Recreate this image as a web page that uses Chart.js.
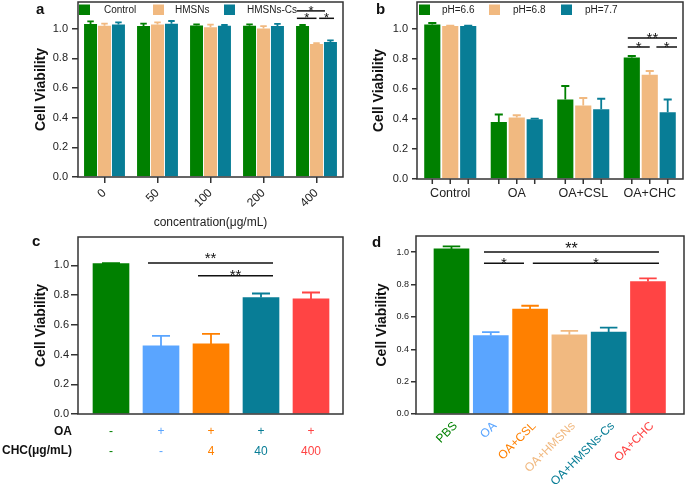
<!DOCTYPE html>
<html>
<head>
<meta charset="utf-8">
<script src="https://cdn.jsdelivr.net/npm/chart.js@4.4.0/dist/chart.umd.min.js"></script>
<style>
  html, body { margin: 0; padding: 0; background: #fff; }
  #page { position: relative; width: 685px; height: 493px; overflow: hidden; }
  .panel { position: absolute; }
</style>
</head>
<body>
<div id="page">
  <div class="panel" style="left:0;top:0;width:345px;height:235px"><canvas id="chartA"></canvas></div>
  <div class="panel" style="left:345px;top:0;width:340px;height:235px"><canvas id="chartB"></canvas></div>
  <div class="panel" style="left:0;top:235px;width:345px;height:258px"><canvas id="chartC"></canvas></div>
  <div class="panel" style="left:345px;top:235px;width:340px;height:258px"><canvas id="chartD"></canvas></div>
</div>
<script>
const GREEN = 'rgb(0,128,0)'
const PEACH = 'rgb(241,185,128)'
const TEAL = 'rgb(8,125,150)'
const BLUE = 'rgb(90,165,255)'
const ORANGE = 'rgb(255,128,0)'
const RED = 'rgb(255,68,68)'
const AXIS = '#333'

// panel a : viability vs concentration
const concLabels = ['0', '50', '100', '200', '400']
const aControl = [1.032, 1.018, 1.022, 1.020, 1.018]
const aControlErr = [0.017, 0.016, 0.007, 0.009, 0.007]
const aHMSNs = [1.020, 1.029, 1.009, 1.002, 0.896]
const aHMSNsErr = [0.014, 0.014, 0.018, 0.016, 0.007]
const aHMSNsCs = [1.029, 1.034, 1.020, 1.018, 0.910]
const aHMSNsCsErr = [0.014, 0.018, 0.005, 0.014, 0.011]

// panel b : pH groups
const groupLabels = ['Control', 'OA', 'OA+CSL', 'OA+CHC']
const bPH66 = [1.03, 0.38, 0.53, 0.81]
const bPH66Err = [0.01, 0.05, 0.09, 0.01]
const bPH68 = [1.02, 0.41, 0.49, 0.695]
const bPH68Err = [0.003, 0.015, 0.05, 0.025]
const bPH77 = [1.02, 0.398, 0.465, 0.445]
const bPH77Err = [0.003, 0.005, 0.07, 0.085]

// panel c : CHC dose
const cOA = ['-', '+', '+', '+', '+']
const cCHC = ['-', '-', '4', '40', '400']
const cValues = [1.012, 0.458, 0.471, 0.783, 0.774]
const cErr = [0.003, 0.067, 0.068, 0.027, 0.043]
const cColors = [GREEN, BLUE, ORANGE, TEAL, RED]

// panel d : formulations
const dLabels = ['PBS', 'OA', 'OA+CSL', 'OA+HMSNs', 'OA+HMSNs-Cs', 'OA+CHC']
const dValues = [1.02, 0.485, 0.648, 0.489, 0.506, 0.819]
const dErr = [0.016, 0.021, 0.021, 0.025, 0.028, 0.019]
const dColors = [GREEN, BLUE, ORANGE, PEACH, TEAL, RED]

Chart.defaults.font.family = "'Liberation Sans', Arial, sans-serif"
Chart.defaults.color = '#222'

const common = {
  responsive: true,
  maintainAspectRatio: false,
  animation: false,
  events: [],
  plugins: { legend: { display: false }, tooltip: { enabled: false } }
}

// fix an axis size and drop the auto padding it asks for
const fixSize = (prop, size) => scale => {
  scale[prop] = size
  scale.paddingTop = scale.paddingBottom = scale.paddingLeft = scale.paddingRight = 0
}

const yAxis = (o) => ({
  min: 0,
  max: o.max,
  afterFit: fixSize('width', o.width),
  grid: { drawOnChartArea: false, tickLength: o.tick, color: AXIS, lineWidth: 1.5 },
  border: { display: false },
  ticks: {
    stepSize: 0.2, includeBounds: false, padding: o.pad,
    font: { size: o.size }, color: '#222',
    callback: v => v.toFixed(1)
  },
  title: {
    display: true, text: 'Cell Viability', color: '#111',
    font: { size: 14, weight: 'bold' },
    padding: { top: o.titlePad, bottom: 0 }
  }
})

const onlyIndexTicks = n => scale => {
  scale.ticks = Array.from({ length: n }, (_, i) => ({ value: i }))
}

const panelPlugin = (opts) => ({
  id: 'panel' + opts.letter,
  afterDatasetsDraw(chart) {
    const ctx = chart.ctx
    const xs = chart.scales.x
    const ys = chart.scales.y
    const area = chart.chartArea
    ctx.save()

    // upper error bars
    chart.data.datasets.forEach((ds, di) => {
      chart.getDatasetMeta(di).data.forEach((bar, i) => {
        const raw = ds.data[i]
        const v = typeof raw === 'object' ? raw.y : raw
        const top = ys.getPixelForValue(v + ds.errors[i])
        const half = bar.width / 4
        ctx.strokeStyle = Array.isArray(ds.backgroundColor) ? ds.backgroundColor[i] : ds.backgroundColor
        ctx.lineWidth = 1.8
        ctx.beginPath()
        ctx.moveTo(bar.x, bar.y)
        ctx.lineTo(bar.x, top)
        ctx.moveTo(bar.x - half, top)
        ctx.lineTo(bar.x + half, top)
        ctx.stroke()
      })
    })

    // frame
    ctx.strokeStyle = AXIS
    ctx.lineWidth = 1.5
    ctx.strokeRect(area.left, area.top, area.right - area.left, area.bottom - area.top)

    if (opts.barTicks) {
      chart.data.datasets.forEach((ds, di) => {
        chart.getDatasetMeta(di).data.forEach(bar => {
          ctx.beginPath()
          ctx.moveTo(bar.x, area.bottom)
          ctx.lineTo(bar.x, area.bottom + 5)
          ctx.stroke()
        })
      })
    }

    // significance brackets
    ctx.fillStyle = '#111'
    ctx.strokeStyle = '#111'
    ctx.textAlign = 'center'
    ctx.textBaseline = 'alphabetic';
    (opts.brackets || []).forEach(b => {
      const x1 = xs.getPixelForValue(b.x1)
      const x2 = xs.getPixelForValue(b.x2)
      const y = ys.getPixelForValue(b.y)
      ctx.lineWidth = 1.5
      ctx.beginPath()
      ctx.moveTo(x1, y)
      ctx.lineTo(x2, y)
      ctx.stroke()
      const size = b.size || opts.starSize
      ctx.font = size + "px 'Liberation Sans', Arial, sans-serif"
      ctx.fillText(b.text, (x1 + x2) / 2, y - b.dy + 0.585 * size)
    })

    // legend inside the frame
    ctx.textAlign = 'left'
    ctx.textBaseline = 'middle'
    ctx.font = "10px 'Liberation Sans', Arial, sans-serif";
    (opts.legend || []).forEach((item, i) => {
      const ds = chart.data.datasets[i]
      ctx.fillStyle = ds.backgroundColor
      ctx.fillRect(item.x, 4.5, 11, 10.5)
      ctx.fillStyle = '#222'
      ctx.fillText(ds.label, item.tx, 10.5)
    })

    // row captions (panel c)
    ctx.textAlign = 'right'
    ctx.font = "bold 12px 'Liberation Sans', Arial, sans-serif"
    ctx.fillStyle = '#111';
    (opts.rowLabels || []).forEach(r => ctx.fillText(r.text, r.x, r.y))

    // panel letter
    ctx.textAlign = 'left'
    ctx.textBaseline = 'alphabetic'
    ctx.font = "bold 15px 'Liberation Sans', Arial, sans-serif"
    ctx.fillText(opts.letter, opts.letterPos[0], opts.letterPos[1])
    ctx.restore()
  }
})

/* eslint-disable no-undef */
new Chart(document.getElementById('chartA'), {
  type: 'bar',
  data: {
    labels: concLabels,
    datasets: [
      { label: 'Control', data: aControl, errors: aControlErr, backgroundColor: GREEN },
      { label: 'HMSNs', data: aHMSNs, errors: aHMSNsErr, backgroundColor: PEACH },
      { label: 'HMSNs-Cs', data: aHMSNsCs, errors: aHMSNsCsErr, backgroundColor: TEAL }
    ]
  },
  options: {
    ...common,
    layout: { padding: { top: 2, right: 2, left: 0, bottom: 0 }, autoPadding: false },
    datasets: { bar: { categoryPercentage: 0.79, barPercentage: 0.93 } },
    scales: {
      x: {
        afterFit: fixSize('height', 58),
        grid: { offset: false, drawOnChartArea: false, tickLength: 6, color: AXIS, lineWidth: 1.5 },
        border: { display: false },
        ticks: { minRotation: 45, maxRotation: 45, padding: 3, font: { size: 12 }, color: '#222' },
        title: {
          display: true, text: 'concentration(μg/mL)', color: '#222',
          font: { size: 12 }, padding: { top: 0, bottom: 4.8 }
        }
      },
      y: yAxis({ max: 1.18, width: 78, tick: 6, pad: 4, size: 11, titlePad: 32.6 })
    }
  },
  plugins: [panelPlugin({
    letter: 'a', letterPos: [36, 14],
    legend: [{ x: 79, tx: 104 }, { x: 153, tx: 175 }, { x: 224, tx: 247 }],
    starSize: 13,
    brackets: [
      { x1: 3.63, x2: 4.16, y: 1.12, text: '*', dy: 3.5 },
      { x1: 3.63, x2: 4.0, y: 1.07, text: '*', dy: 3.5 },
      { x1: 4.05, x2: 4.33, y: 1.07, text: '*', dy: 3.5 }
    ]
  })]
})

new Chart(document.getElementById('chartB'), {
  type: 'bar',
  data: {
    labels: groupLabels,
    datasets: [
      { label: 'pH=6.6', data: bPH66, errors: bPH66Err, backgroundColor: GREEN },
      { label: 'pH=6.8', data: bPH68, errors: bPH68Err, backgroundColor: PEACH },
      { label: 'pH=7.7', data: bPH77, errors: bPH77Err, backgroundColor: TEAL }
    ]
  },
  options: {
    ...common,
    layout: { padding: { top: 2, right: 2, left: 0, bottom: 0 }, autoPadding: false },
    datasets: { bar: { categoryPercentage: 0.81, barPercentage: 0.9 } },
    scales: {
      x: {
        afterFit: fixSize('height', 56),
        grid: { display: false, drawTicks: false },
        border: { display: false },
        ticks: { maxRotation: 0, padding: 7.5, font: { size: 12.5 }, color: '#222' }
      },
      y: yAxis({ max: 1.18, width: 72, tick: 5, pad: 4, size: 11, titlePad: 25.6 })
    }
  },
  plugins: [panelPlugin({
    letter: 'b', letterPos: [31, 13.5],
    barTicks: true,
    legend: [{ x: 74, tx: 97 }, { x: 144, tx: 168 }, { x: 216, tx: 240 }],
    starSize: 15,
    brackets: [
      { x1: 2.67, x2: 3.41, y: 0.94, text: '**', dy: 4 },
      { x1: 2.67, x2: 3.0, y: 0.88, text: '*', dy: 3.5 },
      { x1: 3.1, x2: 3.41, y: 0.88, text: '*', dy: 3.5 }
    ]
  })]
})

new Chart(document.getElementById('chartC'), {
  type: 'bar',
  data: {
    datasets: [{
      label: 'Cell Viability',
      data: cValues.map((v, i) => ({ x: i, y: v })),
      errors: cErr,
      backgroundColor: cColors,
      barThickness: 36
    }]
  },
  options: {
    ...common,
    layout: { padding: { top: 2, right: 2, left: 0, bottom: 0 }, autoPadding: false },
    scales: {
      x: {
        type: 'linear',
        offset: false,
        min: -0.66,
        max: 4.64,
        afterBuildTicks: onlyIndexTicks(cValues.length),
        afterFit: fixSize('height', 79),
        grid: { display: false, drawTicks: false, offset: false },
        border: { display: false },
        ticks: {
          autoSkip: false, maxRotation: 0, padding: 8.4,
          font: { size: 12, lineHeight: 1.6 },
          color: ctx => cColors[ctx.index],
          callback: (v, i) => [cOA[i], cCHC[i]]
        }
      },
      y: yAxis({ max: 1.19, width: 78, tick: 7, pad: 2, size: 11, titlePad: 33 })
    }
  },
  plugins: [panelPlugin({
    letter: 'c', letterPos: [32, 11],
    rowLabels: [{ text: 'OA', x: 72, y: 197 }, { text: 'CHC(μg/mL)', x: 72, y: 216 }],
    starSize: 15,
    brackets: [
      { x1: 0.74, x2: 3.24, y: 1.015, text: '**', dy: 9 },
      { x1: 1.74, x2: 3.24, y: 0.93, text: '**', dy: 4 }
    ]
  })]
})

new Chart(document.getElementById('chartD'), {
  type: 'bar',
  data: {
    datasets: [{
      label: 'Cell Viability',
      data: dValues.map((v, i) => ({ x: i, y: v })),
      errors: dErr,
      backgroundColor: dColors,
      barThickness: 35
    }]
  },
  options: {
    ...common,
    layout: { padding: { top: 1, right: 1, left: 0, bottom: 0 }, autoPadding: false },
    scales: {
      x: {
        type: 'linear',
        offset: false,
        min: -0.903,
        max: 5.917,
        afterBuildTicks: onlyIndexTicks(dValues.length),
        afterFit: fixSize('height', 79),
        grid: { display: false, drawTicks: false, offset: false },
        border: { display: false },
        ticks: {
          autoSkip: false, minRotation: 45, maxRotation: 45, padding: 5, labelOffset: 4,
          font: { size: 12 },
          color: ctx => dColors[ctx.index],
          callback: (v, i) => dLabels[i]
        }
      },
      y: yAxis({ max: 1.10, width: 71, tick: 5, pad: 2, size: 9, titlePad: 28.6 })
    }
  },
  plugins: [panelPlugin({
    letter: 'd', letterPos: [27, 12],
    starSize: 15,
    brackets: [
      { x1: 0.827, x2: 5.28, y: 1.001, text: '**', dy: 7, size: 16 },
      { x1: 0.827, x2: 1.845, y: 0.931, text: '*', dy: 4.5 },
      { x1: 2.07, x2: 5.28, y: 0.931, text: '*', dy: 4.5 }
    ]
  })]
})
</script>
</body>
</html>
